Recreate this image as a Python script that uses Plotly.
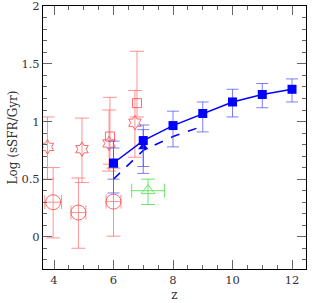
import plotly.graph_objects as go

# Blue filled squares (solid line)
sq_z = [6, 7, 8, 9, 10, 11, 12]
sq_y = [0.64, 0.835, 0.965, 1.07, 1.17, 1.235, 1.28]
sq_up = [0.19, 0.135, 0.125, 0.10, 0.11, 0.095, 0.09]
sq_dn = [0.14, 0.225, 0.185, 0.16, 0.13, 0.115, 0.11]

# Blue filled triangles
tri_z = [6, 7]
tri_y = [0.62, 0.78]
tri_up = [0.15, 0.15]
tri_dn = [0.24, 0.23]

# Blue dashed line
dash_z = [6, 7, 8, 9]
dash_y = [0.50, 0.75, 0.87, 0.96]

# Red open circles
circ_z = [3.97, 4.82, 6.0]
circ_y = [0.30, 0.21, 0.305]
circ_up = [0.30, 0.30, 0.29]
circ_dn = [0.31, 0.31, 0.30]
circ_xe = [0.28, 0.25, 0.25]

# Red open six-pointed stars
star_z = [3.78, 4.94, 5.85, 6.72]
star_y = [0.78, 0.76, 0.81, 0.99]
star_up = [0.26, 0.27, 0.29, 0.28]
star_dn = [0.28, 0.29, 0.24, 0.30]

# Red open squares
rsq_z = [5.88, 6.79]
rsq_y = [0.87, 1.16]
rsq_up = [0.34, 0.45]
rsq_dn = [0.24, 0.12]

# Green open triangle
gt_z = [7.16]
gt_y = [0.40]
gt_up = [0.10]
gt_dn = [0.12]
gt_xe = [0.55]

RED = "rgba(255,80,80,0.85)"
RED_E = "rgba(255,110,110,0.75)"
BLUE = "#0000ff"
BLUE_E = "rgba(70,70,255,0.7)"
GREEN = "rgba(90,230,90,0.9)"
FONT = "DejaVu Serif"

fig = go.Figure()

fig.add_trace(go.Scatter(x=circ_z, y=circ_y, mode="markers",
    marker=dict(symbol="circle-open", size=15, color=RED, line=dict(width=1)),
    error_y=dict(type="data", symmetric=False, array=circ_up, arrayminus=circ_dn,
                 color=RED_E, thickness=1, width=7),
    error_x=dict(type="data", array=circ_xe, color=RED_E, thickness=1, width=7)))

fig.add_trace(go.Scatter(x=star_z, y=star_y, mode="markers",
    marker=dict(symbol="hexagram-open", size=11, color=RED, line=dict(width=1)),
    error_y=dict(type="data", symmetric=False, array=star_up, arrayminus=star_dn,
                 color=RED_E, thickness=1, width=7)))

fig.add_trace(go.Scatter(x=rsq_z, y=rsq_y, mode="markers",
    marker=dict(symbol="square-open", size=9, color=RED, line=dict(width=1)),
    error_y=dict(type="data", symmetric=False, array=rsq_up, arrayminus=rsq_dn,
                 color=RED_E, thickness=1, width=7)))

fig.add_trace(go.Scatter(x=gt_z, y=gt_y, mode="markers",
    marker=dict(symbol="triangle-up-open", size=12, color=GREEN, line=dict(width=1)),
    error_y=dict(type="data", symmetric=False, array=gt_up, arrayminus=gt_dn,
                 color=GREEN, thickness=1, width=7),
    error_x=dict(type="data", array=gt_xe, color=GREEN, thickness=1, width=7)))

fig.add_trace(go.Scatter(x=dash_z, y=dash_y, mode="lines",
    line=dict(color=BLUE, width=1.5, dash="dash")))

fig.add_trace(go.Scatter(x=tri_z, y=tri_y, mode="markers",
    marker=dict(symbol="triangle-up", size=9, color=BLUE),
    error_y=dict(type="data", symmetric=False, array=tri_up, arrayminus=tri_dn,
                 color=BLUE_E, thickness=1, width=6)))

fig.add_trace(go.Scatter(x=sq_z, y=sq_y, mode="lines+markers",
    line=dict(color=BLUE, width=1.5),
    marker=dict(symbol="square", size=9, color=BLUE),
    error_y=dict(type="data", symmetric=False, array=sq_up, arrayminus=sq_dn,
                 color=BLUE_E, thickness=1, width=6)))

axis_common = dict(
    showgrid=False, zeroline=False, showline=True, linecolor="black", linewidth=1,
    mirror="ticks", ticks="inside", tickcolor="#666", ticklen=9, tickwidth=1,
    automargin=False, ticklabeloverflow="allow",
    tickfont=dict(family=FONT, size=11.5, color="#333"),
)

fig.update_xaxes(range=[3.63, 12.47], tick0=4, dtick=2,
    minor=dict(dtick=0.5, ticks="inside", ticklen=4, tickcolor="#666"),
    title=dict(text="z", font=dict(family=FONT, size=12, color="#333"), standoff=4),
    **axis_common)
fig.update_yaxes(range=[-0.28, 2.003], tick0=0, dtick=0.5,
    minor=dict(dtick=0.1, ticks="inside", ticklen=4, tickcolor="#666"),
    title=dict(text="Log (sSFR/Gyr)", font=dict(family=FONT, size=12, color="#333"), standoff=1),
    **axis_common)

fig.update_layout(width=316, height=303, margin=dict(l=43, r=10, t=6, b=34),
    plot_bgcolor="white", paper_bgcolor="white", showlegend=False)

fig.write_html("out.html", config={"displayModeBar": False},
               post_script="document.body.style.margin='0';document.body.style.overflow='hidden';")
